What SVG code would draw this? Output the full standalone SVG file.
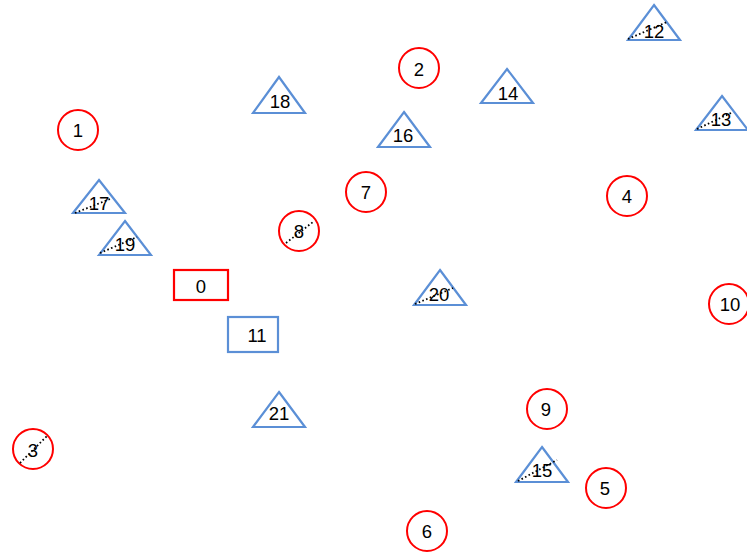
<svg xmlns="http://www.w3.org/2000/svg" width="747" height="554" viewBox="0 0 747 554">
<style>
.c{fill:#fff;stroke:#ff0000;stroke-width:2}
.t{fill:#fff;stroke:#5b8fd6;stroke-width:2.2}
.rr{fill:#fff;stroke:#ff0000;stroke-width:2.2}
.rb{fill:#fff;stroke:#5b8fd6;stroke-width:2.2}
text{font-family:"Liberation Sans",Arial,sans-serif;font-size:18.5px;text-anchor:middle;dominant-baseline:central;fill:#000}
.e{stroke:#000;stroke-width:1.8;stroke-dasharray:1.6 2.4;fill:none}
</style>
<rect width="747" height="554" fill="#fff"/>
<g id="node-1"><circle class="c" cx="78" cy="130" r="20"/><text x="78" y="130">1</text></g>
<g id="node-2"><circle class="c" cx="419" cy="68" r="20"/><text x="419" y="69">2</text></g>
<g id="node-7"><circle class="c" cx="366" cy="192" r="20"/><text x="366" y="192">7</text></g>
<g id="node-4"><circle class="c" cx="627" cy="196" r="20"/><text x="627" y="196">4</text></g>
<g id="node-8"><circle class="c" cx="299" cy="231" r="20"/><text x="299" y="231">8</text></g>
<g id="node-10"><circle class="c" cx="729" cy="304" r="20"/><text x="730" y="304">10</text></g>
<g id="node-9"><circle class="c" cx="547" cy="409" r="20"/><text x="546" y="409">9</text></g>
<g id="node-3"><circle class="c" cx="33" cy="449" r="20"/><text x="33" y="450">3</text></g>
<g id="node-5"><circle class="c" cx="606" cy="488" r="20"/><text x="605" y="488">5</text></g>
<g id="node-6"><circle class="c" cx="427" cy="531" r="20"/><text x="427" y="531">6</text></g>
<g id="node-12"><polygon class="t" points="654,5 680,40 628,40"/><text x="654" y="31">12</text></g>
<g id="node-18"><polygon class="t" points="279,77 305,113 253,113"/><text x="280" y="101">18</text></g>
<g id="node-14"><polygon class="t" points="507,69 533,103 481,103"/><text x="508" y="93">14</text></g>
<g id="node-16"><polygon class="t" points="404,112 430,147 378,147"/><text x="403" y="135">16</text></g>
<g id="node-13"><polygon class="t" points="722,96 748,130 696,130"/><text x="721" y="119">13</text></g>
<g id="node-17"><polygon class="t" points="99,180 125,213 73,213"/><text x="99" y="203">17</text></g>
<g id="node-19"><polygon class="t" points="125,221 151,255 99,255"/><text x="125" y="244">19</text></g>
<g id="node-20"><polygon class="t" points="440,270 466,305 414,305"/><text x="439" y="294">20</text></g>
<g id="node-21"><polygon class="t" points="279,392 305,427 253,427"/><text x="279" y="413">21</text></g>
<g id="node-15"><polygon class="t" points="542,447 568,482 516,482"/><text x="542" y="470">15</text></g>
<g id="node-0"><rect class="rr" x="174" y="270" width="54" height="30"/><text x="201" y="286">0</text></g>
<g id="node-11"><rect class="rb" x="228" y="317" width="50" height="35"/><text x="257" y="335">11</text></g>
<g id="edges">
<line class="e" x1="75" y1="213" x2="110" y2="199"/>
<line class="e" x1="100" y1="253" x2="137" y2="237"/>
<line class="e" x1="286" y1="243" x2="313" y2="222"/>
<line class="e" x1="20" y1="463" x2="48" y2="435"/>
<line class="e" x1="628" y1="39" x2="667" y2="22"/>
<line class="e" x1="697" y1="129" x2="733" y2="112"/>
<line class="e" x1="415" y1="304" x2="453" y2="288"/>
<line class="e" x1="518" y1="481" x2="557" y2="460"/>
</g>
</svg>
